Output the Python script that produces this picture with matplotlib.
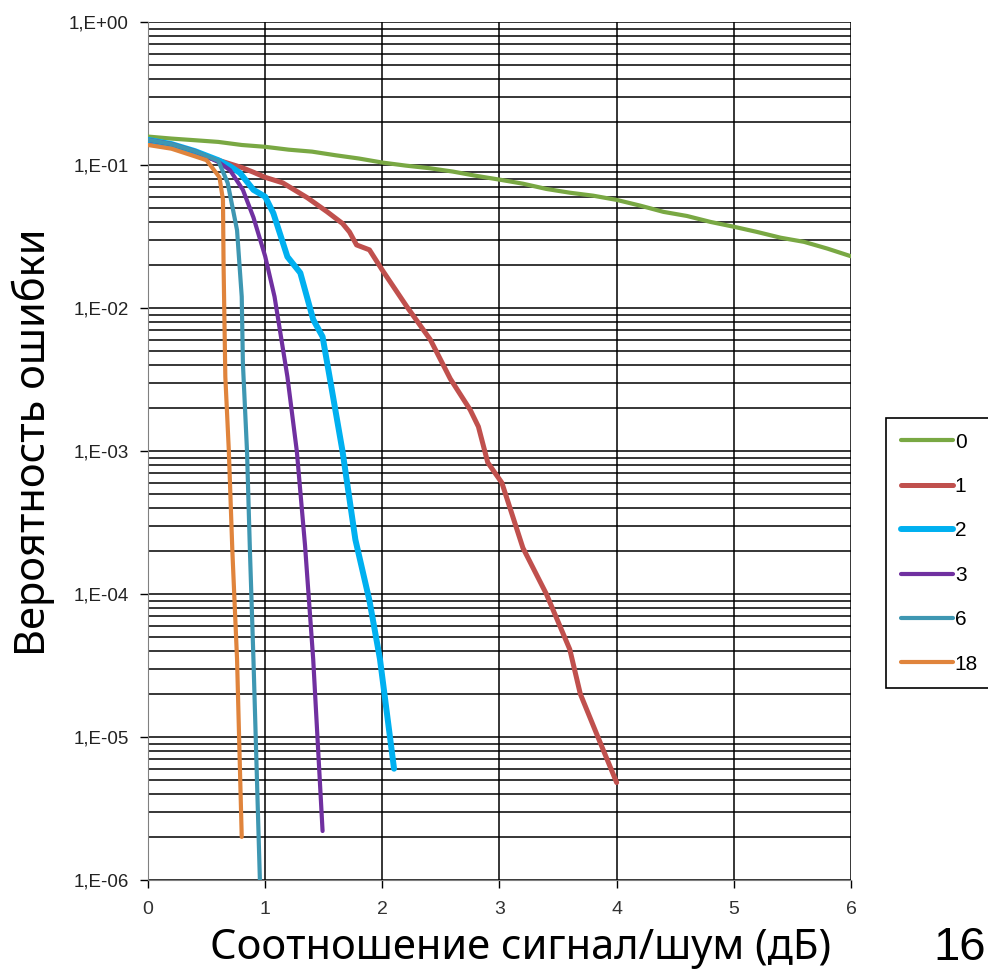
import math
import matplotlib.pyplot as plt
from matplotlib.ticker import LogLocator, FuncFormatter, NullFormatter

# snr (dB) vs error probability, one curve per parameter value
x0 = [0, 0.2, 0.4, 0.6, 0.8, 1.0, 1.2, 1.4, 1.6, 1.8, 2.0, 2.2, 2.4, 2.6, 2.8, 3.0,
      3.2, 3.4, 3.6, 3.8, 4.0, 4.2, 4.4, 4.6, 4.8, 5.0, 5.2, 5.4, 5.6, 5.8, 6.0]
y0 = [0.158, 0.153, 0.149, 0.145, 0.138, 0.134, 0.128, 0.124, 0.117, 0.111, 0.104,
      0.099, 0.095, 0.090, 0.084, 0.079, 0.074, 0.068, 0.064, 0.061, 0.057, 0.052,
      0.047, 0.044, 0.040, 0.037, 0.034, 0.031, 0.029, 0.026, 0.023]

x1 = [0, 0.2, 0.4, 0.6, 0.8, 0.9, 1.0, 1.15, 1.36, 1.53, 1.66, 1.72, 1.78, 1.89, 2.0,
      2.21, 2.41, 2.58, 2.75, 2.82, 2.90, 3.02, 3.20, 3.40, 3.60, 3.69, 3.84, 4.0]
y1 = [0.145, 0.135, 0.12, 0.108, 0.096, 0.089, 0.082, 0.075, 0.059, 0.047, 0.039,
      0.034, 0.0276, 0.0255, 0.0184, 0.0102, 0.006, 0.0032, 0.00194, 0.00148, 0.00083,
      0.0006, 0.00021, 0.0001, 4.1e-5, 2.0e-5, 1.0e-5, 4.8e-6]

x2 = [0, 0.2, 0.4, 0.6, 0.7, 0.785, 0.9, 1.0, 1.07, 1.19, 1.30, 1.41, 1.49, 1.55,
      1.66, 1.77, 1.89, 1.98, 2.1]
y2 = [0.15, 0.14, 0.125, 0.108, 0.098, 0.088, 0.067, 0.060, 0.046, 0.0228, 0.0176,
      0.0083, 0.0063, 0.0033, 0.001, 2.4e-4, 9e-5, 3.5e-5, 6e-6]

x3 = [0, 0.2, 0.4, 0.6, 0.70, 0.81, 0.9, 1.0, 1.08, 1.19, 1.27, 1.34, 1.41, 1.49]
y3 = [0.15, 0.14, 0.125, 0.105, 0.092, 0.067, 0.043, 0.023, 0.012, 0.0033, 0.001,
      2.2e-4, 3.5e-5, 2.2e-6]

x6 = [0, 0.2, 0.4, 0.6, 0.68, 0.76, 0.80, 0.81, 0.845, 0.87, 0.90, 0.955]
y6 = [0.15, 0.14, 0.125, 0.107, 0.075, 0.035, 0.012, 0.0041, 0.001, 2e-4, 3.5e-5, 1e-6]

x18 = [0, 0.2, 0.4, 0.5, 0.61, 0.64, 0.645, 0.66, 0.69, 0.72, 0.76, 0.80]
y18 = [0.138, 0.13, 0.115, 0.108, 0.082, 0.057, 0.02, 0.0033, 0.001, 2e-4, 3.5e-5, 2e-6]

labels = ['0', '1', '2', '3', '6', '18']
colors = ['#79A843', '#C0504D', '#00B0F0', '#7030A0', '#3E97B2', '#E0843C']
widths = [3.0, 3.6, 4.3, 3.0, 3.0, 3.0]


def sci_label(v, pos):
    if v >= 1:
        return '1,E+00'
    return '1,E-%02d' % round(-math.log10(v))


fig = plt.figure(figsize=(9.88, 9.73), dpi=100)
ax = fig.add_axes([0.1498, 0.0956, 0.7115, 0.8818])

series = [(x0, y0), (x1, y1), (x2, y2), (x3, y3), (x6, y6), (x18, y18)]
for (xs, ys), lab, c, w in zip(series, labels, colors, widths):
    ax.plot(xs, ys, color=c, lw=w, label=lab, solid_capstyle='round', zorder=3)

ax.set_yscale('log')
ax.set_ylim(1e-6, 1)
ax.set_xlim(0, 6)
ax.set_xticks(range(7))
ax.yaxis.set_major_locator(LogLocator(base=10, numticks=10))
ax.yaxis.set_minor_locator(LogLocator(base=10, subs=range(2, 10), numticks=100))
ax.yaxis.set_minor_formatter(NullFormatter())
ax.yaxis.set_major_formatter(FuncFormatter(sci_label))

ax.grid(which='both', axis='y', color='black', lw=1.1)
ax.grid(which='major', axis='x', color='black', lw=1.1)
ax.tick_params(axis='y', which='minor', length=0)
ax.tick_params(axis='y', which='major', length=6, width=1, pad=8, labelsize=13.5,
               labelfontfamily='Liberation Sans', labelcolor='#222222')
ax.tick_params(axis='x', length=6, width=1, pad=9, labelsize=14,
               labelfontfamily='Liberation Sans', labelcolor='#333333')
for s in ['top', 'right']:
    ax.spines[s].set_visible(False)
ax.spines['left'].set_color('#808080')
ax.spines['bottom'].set_color('#808080')

fig.text(520 / 988, 1 - 959 / 973, 'Соотношение сигнал/шум (дБ)', fontsize=30,
         family='Noto Sans', ha='center', va='baseline')
fig.text(45 / 988, 1 - 442 / 973, 'Вероятность ошибки', fontsize=30, family='Noto Sans',
         rotation=90, rotation_mode='anchor', ha='center', va='baseline')

leg = fig.legend(loc='upper left', bbox_to_anchor=(886 / 988, 1 - 418 / 973),
                 borderaxespad=0, fancybox=False, edgecolor='black', framealpha=1,
                 prop={'family': 'Liberation Sans', 'size': 15},
                 handlelength=2.5, handletextpad=0.1, labelspacing=1.22, borderpad=0.7)
leg.get_frame().set_linewidth(1.2)

fig.text(986 / 988, 1 - 960 / 973, '16', fontsize=34, family='Liberation Sans',
         ha='right', va='baseline')

fig.savefig('out.png', dpi=100)
